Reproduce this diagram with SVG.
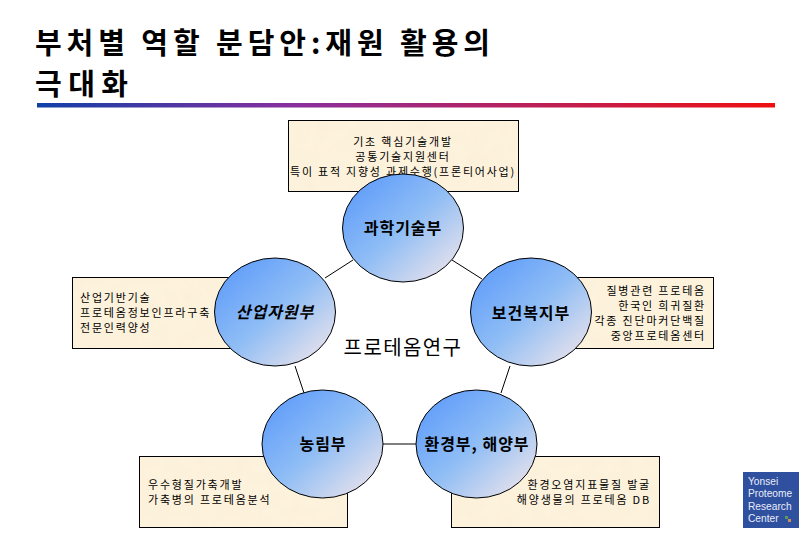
<svg xmlns="http://www.w3.org/2000/svg" width="810" height="540" viewBox="0 0 810 540">
<style>
text{font-family:"Noto Sans CJK KR","Noto Sans",sans-serif;fill:#000}
.t{font-size:29px;font-weight:700}
.b{font-size:11px;letter-spacing:1.8px}
.n{font-size:16px;font-weight:700;text-anchor:middle;letter-spacing:1px}
.box{fill:#fdf2dc;filter:url(#mottle)}
.edge{fill:none;stroke:#000;stroke-width:1}
.c{fill:url(#blue);stroke:#000;stroke-width:1}
.l{stroke:#000;stroke-width:1;fill:none}
.m{text-anchor:middle}.e{text-anchor:end}
.logo{font-family:"Liberation Sans",sans-serif;font-size:10.2px;fill:#e8edf8}
</style>
<defs>
<linearGradient id="bar" x1="0" x2="1" y1="0" y2="0"><stop offset="0" stop-color="#0f3fa8"/><stop offset=".35" stop-color="#8a2f9e"/><stop offset="1" stop-color="#ee1010"/></linearGradient>
<linearGradient id="blue" x1=".12" y1=".12" x2=".88" y2=".88"><stop offset="0" stop-color="#639ffa"/><stop offset=".5" stop-color="#8fbdf5"/><stop offset="1" stop-color="#e0dfec"/></linearGradient>
<filter id="mottle" x="0" y="0" width="1" height="1">
<feTurbulence type="fractalNoise" baseFrequency="0.06" numOctaves="3" seed="4"/>
<feColorMatrix values="0 0 0 0 .96  0 0 0 0 .86  0 0 0 0 .68  1.2 0 0 0 -.45"/>
<feComposite in2="SourceGraphic" operator="atop"/>
<feMerge><feMergeNode in="SourceGraphic"/><feMergeNode/></feMerge>
</filter>
</defs>
<rect width="810" height="540" fill="#fff"/>
<g id="title">
<text class="t" x="35" y="54" textLength="455" lengthAdjust="spacing">부처별 역할 분담안:재원 활용의</text>
<text class="t" x="35" y="95" textLength="93" lengthAdjust="spacing">극대화</text>
<rect x="37" y="103" width="738" height="4.500" fill="url(#bar)"/>
</g>
<g id="connectors">
<line class="l" x1="325" y1="278" x2="353" y2="260"/>
<line class="l" x1="452" y1="260" x2="482" y2="279"/>
<line class="l" x1="295" y1="366" x2="304" y2="393"/>
<line class="l" x1="510" y1="366" x2="501" y2="393"/>
<line class="l" x1="383" y1="444" x2="416" y2="444"/>
</g>
<g id="box-top"><rect class="box" x="288.500" y="120.500" width="230" height="71"/><rect class="edge" x="288.500" y="120.500" width="230" height="71"/>
<text class="b m" x="403" y="146">기초 핵심기술개발</text>
<text class="b m" x="403" y="161">공통기술지원센터</text>
<text class="b m" x="403" y="176" textLength="226" lengthAdjust="spacing">특이 표적 지향성 과제수행(프론티어사업)</text></g>
<g id="box-left"><rect class="box" x="72.500" y="277.500" width="180" height="71"/><rect class="edge" x="72.500" y="277.500" width="180" height="71"/>
<text class="b" x="80" y="302">산업기반기술</text>
<text class="b" x="80" y="317">프로테옴정보인프라구축</text>
<text class="b" x="80" y="332">전문인력양성</text></g>
<g id="box-right"><rect class="box" x="560.500" y="277.500" width="153" height="71"/><rect class="edge" x="560.500" y="277.500" width="153" height="71"/>
<text class="b e" x="706" y="295">질병관련 프로테옴</text>
<text class="b e" x="706" y="310">한국인 희귀질환</text>
<text class="b e" x="706" y="325">각종 진단마커단백질</text>
<text class="b e" x="706" y="340">중앙프로테옴센터</text></g>
<g id="box-bl"><rect class="box" x="139.500" y="456.500" width="208" height="71"/><rect class="edge" x="139.500" y="456.500" width="208" height="71"/>
<text class="b" x="148" y="489">우수형질가축개발</text>
<text class="b" x="148" y="504">가축병의 프로테옴분석</text></g>
<g id="box-br"><rect class="box" x="451.500" y="456.500" width="208" height="71"/><rect class="edge" x="451.500" y="456.500" width="208" height="71"/>
<text class="b e" x="651" y="489">환경오염지표물질 발굴</text>
<text class="b e" x="651" y="504">해양생물의 프로테옴 DB</text></g>
<g id="node-top"><ellipse class="c" cx="403" cy="228" rx="60.500" ry="54"/><text class="n" x="403" y="234">과학기술부</text></g>
<g id="node-left"><ellipse class="c" cx="275" cy="312" rx="60.500" ry="54"/><text class="n" x="275" y="318" font-style="italic">산업자원부</text></g>
<g id="node-right"><ellipse class="c" cx="531" cy="312" rx="60.500" ry="54"/><text class="n" x="531" y="319">보건복지부</text></g>
<g id="node-bl"><ellipse class="c" cx="322.500" cy="444" rx="60.500" ry="54"/><text class="n" x="323" y="450">농림부</text></g>
<g id="node-br"><ellipse class="c" cx="476.500" cy="444" rx="60.500" ry="54"/><text class="n" x="477" y="450">환경부, 해양부</text></g>
<g id="center"><text x="403" y="355" class="m" font-size="20" letter-spacing="1.400">프로테옴연구</text></g>
<g id="logo"><rect x="743" y="472" width="56" height="56" fill="#2f4f9f"/>
<text class="logo" x="748" y="485">Yonsei</text>
<text class="logo" x="748" y="497">Proteome</text>
<text class="logo" x="748" y="510">Research</text>
<text class="logo" x="748" y="522">Center</text>
<rect x="785" y="516" width="3" height="3" fill="#5c9a5c"/><rect x="788" y="519" width="3" height="3" fill="#c9925a"/></g>
</svg>
